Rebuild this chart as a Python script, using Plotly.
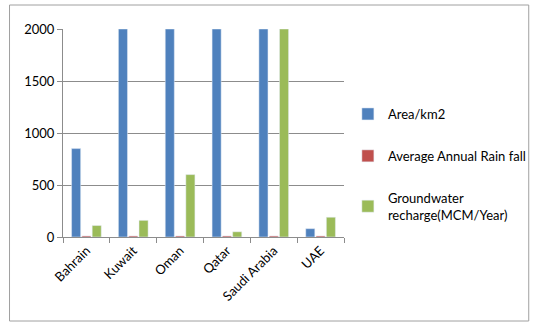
import plotly.graph_objects as go

countries = ["Bahrain", "Kuwait", "Oman", "Qatar", "Saudi Arabia", "UAE"]
area = [850, 2000, 2000, 2000, 2000, 80]
rainfall = [10, 10, 10, 10, 10, 10]
groundwater = [110, 160, 600, 50, 2000, 190]
y_ticks = [0, 500, 1000, 1500, 2000]

W, H = 543, 323
L, R, T, B = 63, 191, 29, 86
pw = W - L - R
ph = H - T - B

def px_x(p):
    return (p - L) / pw

def px_y(p):
    return (H - B - p) / ph

fig = go.Figure()
fig.add_trace(go.Bar(name="Area/km2", x=countries, y=area, marker_color="#4F81BD",
                     legendgroup="g1"))
fig.add_trace(go.Bar(name="Average Annual Rain fall", x=countries, y=rainfall,
                     marker_color="#C0504D", legendgroup="g2"))
fig.add_trace(go.Bar(name="Groundwater<br>recharge(MCM/Year)", x=countries, y=groundwater,
                     marker_color="#9BBB59", legendgroup="g3"))

fig.update_layout(
    width=W, height=H,
    margin=dict(l=L, r=R, t=T, b=B),
    paper_bgcolor="white", plot_bgcolor="white",
    font=dict(family="Lato, Open Sans, sans-serif", size=12, color="#000000"),
    barmode="group", bargap=0.34, bargroupgap=0.12,
    showlegend=True,
    legend=dict(x=px_x(356), y=px_y(99), xanchor="left", yanchor="top",
                traceorder="grouped", tracegroupgap=22, font=dict(size=13),
                bgcolor="rgba(0,0,0,0)", itemwidth=30),
    shapes=[dict(type="rect", xref="paper", yref="paper",
                 x0=px_x(8), x1=px_x(542), y0=px_y(321), y1=px_y(5),
                 line=dict(color="#A0A0A0", width=1), layer="below")],
)
fig.update_yaxes(range=[0, 2000], tickvals=y_ticks, showgrid=True, gridcolor="#8C8C8C",
                 gridwidth=1, showline=True, linecolor="#8C8C8C", ticks="outside",
                 ticklen=5, tickcolor="#8C8C8C", tickfont=dict(size=13), zeroline=False)
fig.update_xaxes(showline=True, linecolor="#8C8C8C", ticks="outside", ticklen=5,
                 tickcolor="#8C8C8C", tickson="boundaries", tickangle=-45,
                 tickfont=dict(size=13))

fig.write_html("out.html")
